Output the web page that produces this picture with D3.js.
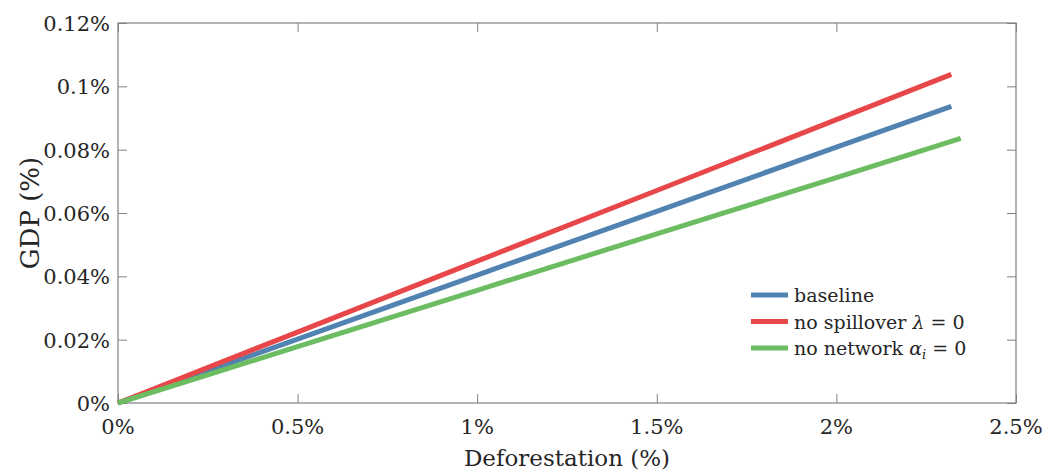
<!DOCTYPE html>
<html>
<head>
<meta charset="utf-8">
<script src="https://cdn.jsdelivr.net/npm/d3@7"></script>
<style>
  body { margin: 0; background: #fff; }
  svg text { font-family: 'DejaVu Serif'; fill: #262626; }
</style>
</head>
<body>
<script>
// chart size
const width = 1043, height = 471;
const margin = {top: 23, right: 27, bottom: 68, left: 118};

// data (x = deforestation %, y = GDP %)
const seriesNames = ["baseline", "no spillover", "no network"];
const seriesColors = ["#5083b2", "#e8474a", "#6cbc62"];
const baselineX = [0, 0.5, 1, 1.5, 2, 2.32];
const baselineY = [0, 0.0202, 0.0404, 0.0605, 0.0808, 0.0937];
const spilloverX = [0, 0.5, 1, 1.5, 2, 2.32];
const spilloverY = [0, 0.0224, 0.0448, 0.0671, 0.0895, 0.1038];
const networkX = [0, 0.5, 1, 1.5, 2, 2.346];
const networkY = [0, 0.0178, 0.0356, 0.0534, 0.0712, 0.0836];
const xTicks = [0, 0.5, 1, 1.5, 2, 2.5];
const yTicks = [0, 0.02, 0.04, 0.06, 0.08, 0.1, 0.12];

const series = [
    {name: seriesNames[0], color: seriesColors[0], xs: baselineX, ys: baselineY},
    {name: seriesNames[1], color: seriesColors[1], xs: spilloverX, ys: spilloverY},
    {name: seriesNames[2], color: seriesColors[2], xs: networkX, ys: networkY}
];

const svg = d3.select("body").append("svg")
    .attr("width", width)
    .attr("height", height);

const x = d3.scaleLinear().domain([0, 2.5]).range([margin.left, width - margin.right]);
const y = d3.scaleLinear().domain([0, 0.12]).range([height - margin.bottom, margin.top]);

const fmt = d => d + "%";

// axes: ticks point inward, labels drawn separately
const xAxis = svg.append("g")
    .attr("transform", `translate(0,${y(0)})`)
    .call(d3.axisTop(x).tickValues(xTicks).tickSize(9).tickFormat(""));
const yAxis = svg.append("g")
    .attr("transform", `translate(${x(0)},0)`)
    .call(d3.axisRight(y).tickValues(yTicks).tickSize(9).tickFormat(""));
const yAxisR = svg.append("g")
    .attr("transform", `translate(${x(2.5)},0)`)
    .call(d3.axisLeft(y).tickValues(yTicks).tickSize(9).tickFormat(""));
const xAxisT = svg.append("g")
    .attr("transform", `translate(0,${y(0.12)})`)
    .call(d3.axisBottom(x).tickValues(xTicks).tickSize(9).tickFormat(""));

[xAxis, yAxis, yAxisR, xAxisT].forEach(g => {
    g.select(".domain").remove();
    g.selectAll("line").attr("stroke", "#808080");
    g.selectAll("text").remove();
});

// frame
svg.append("rect")
    .attr("x", x(0)).attr("y", y(0.12))
    .attr("width", x(2.5) - x(0)).attr("height", y(0) - y(0.12))
    .attr("fill", "none").attr("stroke", "#808080").attr("stroke-width", 1.2);

// tick labels
svg.selectAll(".xl").data(xTicks).enter().append("text")
    .attr("x", d => x(d)).attr("y", y(0) + 31)
    .attr("text-anchor", "middle").attr("font-size", "21px")
    .text(fmt);
svg.selectAll(".yl").data(yTicks).enter().append("text")
    .attr("x", x(0) - 8).attr("y", d => y(d) + 8)
    .attr("text-anchor", "end").attr("font-size", "21px")
    .text(fmt);

// axis titles
svg.append("text")
    .attr("x", (x(0) + x(2.5)) / 2).attr("y", 466)
    .attr("text-anchor", "middle").attr("font-size", "23px")
    .text("Deforestation (%)");
svg.append("text")
    .attr("transform", `translate(39,${(y(0) + y(0.12)) / 2}) rotate(-90)`)
    .attr("text-anchor", "middle").attr("font-size", "26px")
    .text("GDP (%)");

// lines
const line = d3.line().x(d => x(d[0])).y(d => y(d[1]));
svg.selectAll(".series").data(series).enter().append("path")
    .attr("d", s => line(s.xs.map((v, i) => [v, s.ys[i]])))
    .attr("fill", "none")
    .attr("stroke", s => s.color)
    .attr("stroke-width", 5);

// legend
const legend = svg.append("g").attr("transform", "translate(751,295)");
const rows = legend.selectAll("g").data(series).enter().append("g")
    .attr("transform", (d, i) => `translate(0,${i * 26.5})`);
rows.append("line")
    .attr("x1", 0).attr("x2", 37).attr("y1", 0).attr("y2", 0)
    .attr("stroke", d => d.color).attr("stroke-width", 5);
const lt = rows.append("text")
    .attr("x", 43).attr("y", 7).attr("font-size", "19px");
lt.filter((d, i) => i === 0).text("baseline");
const t1 = lt.filter((d, i) => i === 1);
t1.append("tspan").text("no spillover ");
t1.append("tspan").attr("font-style", "italic").text("λ");
t1.append("tspan").text(" = 0");
const t2 = lt.filter((d, i) => i === 2);
t2.append("tspan").text("no network ");
t2.append("tspan").attr("font-style", "italic").text("α");
t2.append("tspan").attr("font-style", "italic").attr("font-size", "13px").attr("dy", 4).text("i");
t2.append("tspan").attr("dy", -4).text(" = 0");
</script>
</body>
</html>
